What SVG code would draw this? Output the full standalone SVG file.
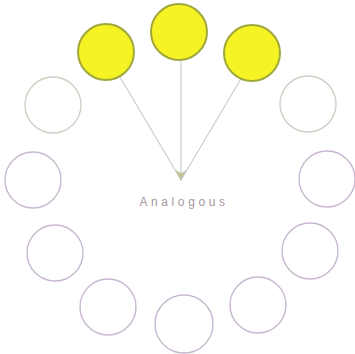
<svg xmlns="http://www.w3.org/2000/svg" width="355" height="354" viewBox="0 0 355 354">
<defs>
<style>
.sel{fill:#f6f324;stroke:#a0a83c;stroke-width:2}
.empty{fill:none;stroke:#c8b8d0;stroke-width:1.4}
.top{stroke:#ccd2c4}
.link{stroke:#c0ccd4;stroke-width:1.1;fill:none}
.lbl{font-family:"Liberation Sans",Arial,sans-serif;font-size:12px;fill:#a8969e;letter-spacing:3.6px}
</style>
<marker id="ah" viewBox="0 0 10 10" refX="10" refY="5" markerWidth="11" markerHeight="11" orient="auto" markerUnits="userSpaceOnUse">
<path d="M0,0 L10,5 L0,10 L3,5 z" fill="#c4c290"/>
</marker>
</defs>
<rect width="355" height="354" fill="#ffffff"/>
<g id="connectors">
<line class="link" x1="120" y1="77" x2="181" y2="180"/>
<line class="link" x1="181" y1="61" x2="181" y2="181" marker-end="url(#ah)"/>
<line class="link" x1="242" y1="77" x2="181" y2="180"/>
</g>
<g id="c-top"><circle class="sel" cx="179" cy="32" r="28"/></g>
<g id="c-left-top"><circle class="sel" cx="106" cy="52" r="28"/></g>
<g id="c-right-top"><circle class="sel" cx="252" cy="53" r="28"/></g>
<g id="c-r60"><circle class="empty top" cx="308" cy="104" r="28"/></g>
<g id="c-r90"><circle class="empty" cx="327" cy="179" r="28"/></g>
<g id="c-r120"><circle class="empty" cx="310" cy="251" r="28"/></g>
<g id="c-r150"><circle class="empty" cx="258" cy="305" r="28"/></g>
<g id="c-bottom"><circle class="empty" cx="184" cy="324" r="29"/></g>
<g id="c-l150"><circle class="empty" cx="108" cy="307" r="28"/></g>
<g id="c-l120"><circle class="empty" cx="55" cy="253" r="28"/></g>
<g id="c-l90"><circle class="empty" cx="33" cy="180" r="28"/></g>
<g id="c-l60"><circle class="empty top" cx="53" cy="105" r="28"/></g>
<g id="label"><text class="lbl" x="184" y="206" text-anchor="middle">Analogous</text></g>
</svg>
